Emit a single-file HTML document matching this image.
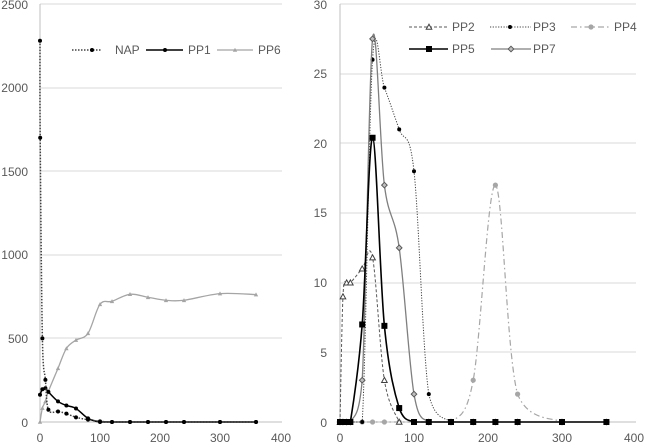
<!DOCTYPE html>
<html><head><meta charset="utf-8"><style>
html,body{margin:0;padding:0;background:#fff;}
svg{display:block;font-family:"Liberation Sans",sans-serif;}
</style></head><body>
<svg id="s" width="649" height="445" viewBox="0 0 649 445" xmlns="http://www.w3.org/2000/svg">
<g font-size="12" fill="#595959">
<text x="28" y="9" text-anchor="end">2500</text>
<text x="28" y="92" text-anchor="end">2000</text>
<text x="28" y="176" text-anchor="end">1500</text>
<text x="28" y="259" text-anchor="end">1000</text>
<text x="28" y="343" text-anchor="end">500</text>
<text x="28" y="427" text-anchor="end">0</text>
<text x="40" y="442" text-anchor="middle">0</text>
<text x="100" y="442" text-anchor="middle">100</text>
<text x="160" y="442" text-anchor="middle">200</text>
<text x="220" y="442" text-anchor="middle">300</text>
<text x="281" y="442" text-anchor="middle">400</text>
<text x="327" y="9" text-anchor="end">30</text>
<text x="327" y="78" text-anchor="end">25</text>
<text x="327" y="148" text-anchor="end">20</text>
<text x="327" y="217" text-anchor="end">15</text>
<text x="327" y="287" text-anchor="end">10</text>
<text x="327" y="357" text-anchor="end">5</text>
<text x="327" y="427" text-anchor="end">0</text>
<text x="340" y="442" text-anchor="middle">0</text>
<text x="414" y="442" text-anchor="middle">100</text>
<text x="488" y="442" text-anchor="middle">200</text>
<text x="562" y="442" text-anchor="middle">300</text>
<text x="634" y="442" text-anchor="middle">400</text>
<text x="115" y="54">NAP</text>
<text x="188" y="54">PP1</text>
<text x="258" y="54">PP6</text>
<text x="452" y="31">PP2</text>
<text x="533" y="31">PP3</text>
<text x="614" y="31">PP4</text>
<text x="452" y="53">PP5</text>
<text x="533" y="53">PP7</text>
</g>
<g id="g"></g>
</svg>
<script>
var g=document.getElementById('g');var NS='http://www.w3.org/2000/svg';
function el(t,a){var e=document.createElementNS(NS,t);for(var k in a)e.setAttribute(k,a[k]);g.appendChild(e);return e;}
[4,88,171,255,338].forEach(function(y){el('line',{x1:40,x2:282,y1:y,y2:y,stroke:'#d9d9d9'});});
[4,74,143,213,283,352].forEach(function(y){el('line',{x1:340,x2:636,y1:y,y2:y,stroke:'#d9d9d9'});});
el('line',{x1:40,x2:282,y1:422,y2:422,stroke:'#bfbfbf'});
el('line',{x1:40,x2:40,y1:4,y2:422,stroke:'#bfbfbf'});
el('line',{x1:340,x2:636,y1:422,y2:422,stroke:'#bfbfbf'});
el('line',{x1:340,x2:340,y1:4,y2:422,stroke:'#bfbfbf'});
function L(p){return [40+p[0]*0.6,422-p[1]*418/2500];}
function R(p){return [340+p[0]*0.74,422-p[1]*418/30];}
function cl(y){return Math.min(y,422);}
function path(pts){var d='M'+pts[0][0]+','+pts[0][1];for(var i=0;i<pts.length-1;i++){var p0=pts[i-1]||pts[i],p1=pts[i],p2=pts[i+1],p3=pts[i+2]||p2;
var c1=[p1[0]+(p2[0]-p0[0])/6,cl(p1[1]+(p2[1]-p0[1])/6)],c2=[p2[0]-(p3[0]-p1[0])/6,cl(p2[1]-(p3[1]-p1[1])/6)];
if(p1[1]==422&&p2[1]==422){c1[1]=422;c2[1]=422;}
d+=' C'+c1+' '+c2+' '+p2;}return d;}
function mark(t,x,y,c){if(t=='dot')el('circle',{cx:x,cy:y,r:2,fill:c});
else if(t=='bigdot')el('circle',{cx:x,cy:y,r:2.6,fill:c});
else if(t=='sq')el('rect',{x:x-3,y:y-3,width:6,height:6,fill:c});
else if(t=='tri')el('path',{d:'M'+x+','+(y-2.8)+' L'+(x+2.8)+','+(y+2.3)+' L'+(x-2.8)+','+(y+2.3)+'Z',fill:'#fff',stroke:c,'stroke-width':1});
else if(t=='stri')el('path',{d:'M'+x+','+(y-2.2)+' L'+(x+2.2)+','+(y+1.8)+' L'+(x-2.2)+','+(y+1.8)+'Z',fill:c});
else if(t=='dia')el('path',{d:'M'+x+','+(y-2.8)+' L'+(x+2.8)+','+y+' L'+x+','+(y+2.8)+' L'+(x-2.8)+','+y+'Z',fill:'#bfbfbf',stroke:c});}
function series(data,f,st,m,c){var pts=data.map(f);el('path',Object.assign({d:path(pts),fill:'none'},st));pts.forEach(function(p){mark(m,p[0],p[1],c);});}
var Z=[150,180,210,240,300,360];
function zz(a){return a.concat(Z.map(function(x){return [x,0];}));}
series([[0,0],[4,83],[9,123],[14,183],[30,321],[44,440],[60,490],[80,530],[100,704],[120,722],[150,764],[180,746],[210,728],[240,728],[300,768],[360,762]],L,{stroke:'#a5a5a5','stroke-width':1.3},'stri','#a5a5a5');
series(zz([[0,163],[4,196],[9,202],[14,180],[30,123],[44,99],[60,81],[80,22],[100,0],[120,0]]),L,{stroke:'#000','stroke-width':1.5},'dot','#000');
series(zz([[0,2280],[0.3,1700],[4,500],[9,252],[14,73],[30,63],[44,50],[60,28],[80,14],[100,4],[120,0]]),L,{stroke:'#404040','stroke-width':1.5,'stroke-dasharray':'1.5,1.5'},'dot','#000');
var z0=[[0,0],[4,0],[9,0],[14,0]];
series(z0.concat([[30,0],[44,0],[60,0],[80,0],[100,0],[120,0],[150,0],[180,3],[210,17],[240,2],[300,0]]),R,{stroke:'#a6a6a6','stroke-width':1.2,'stroke-dasharray':'6,3,1.5,3'},'bigdot','#a6a6a6');
series(z0.concat([[30,0],[44,26],[60,24],[80,21],[100,18],[120,2],[150,0]]),R,{stroke:'#404040','stroke-width':1,'stroke-dasharray':'1.2,1.5'},'dot','#000');
series([[0,0],[4,9],[9,10],[14,10],[30,11],[44,11.8],[60,3],[80,0]],R,{stroke:'#595959','stroke-width':1,'stroke-dasharray':'3,2'},'tri','#404040');
series(zz(z0.concat([[30,3],[44,27.5],[60,17],[80,12.5],[100,2],[120,0]])),R,{stroke:'#7f7f7f','stroke-width':1.3},'dia','#595959');
series(zz(z0.concat([[30,7],[44,20.4],[60,6.9],[80,1],[100,0],[120,0]])),R,{stroke:'#000','stroke-width':1.6},'sq','#000');
el('line',{x1:72,x2:102,y1:50,y2:50,stroke:'#404040','stroke-width':1.5,'stroke-dasharray':'1.5,1.5'});mark('dot',92,50,'#000');
el('line',{x1:146,x2:183,y1:50,y2:50,stroke:'#000','stroke-width':1.5});mark('dot',165,50,'#000');
el('line',{x1:217,x2:253,y1:50,y2:50,stroke:'#a5a5a5','stroke-width':1.3});mark('stri',235,50,'#a5a5a5');
el('line',{x1:409,x2:449,y1:27,y2:27,stroke:'#595959','stroke-dasharray':'3,2'});mark('tri',429,27,'#404040');
el('line',{x1:490,x2:531,y1:27,y2:27,stroke:'#404040','stroke-dasharray':'1.2,1.5'});mark('dot',510,27,'#000');
el('line',{x1:571,x2:610,y1:27,y2:27,stroke:'#a6a6a6','stroke-width':1.2,'stroke-dasharray':'6,3,1.5,3'});mark('bigdot',591,27,'#a6a6a6');
el('line',{x1:409,x2:448,y1:49,y2:49,stroke:'#000','stroke-width':1.6});mark('sq',429,49,'#000');
el('line',{x1:491,x2:531,y1:49,y2:49,stroke:'#7f7f7f','stroke-width':1.3});mark('dia',511,49,'#595959');
</script>
</body></html>
